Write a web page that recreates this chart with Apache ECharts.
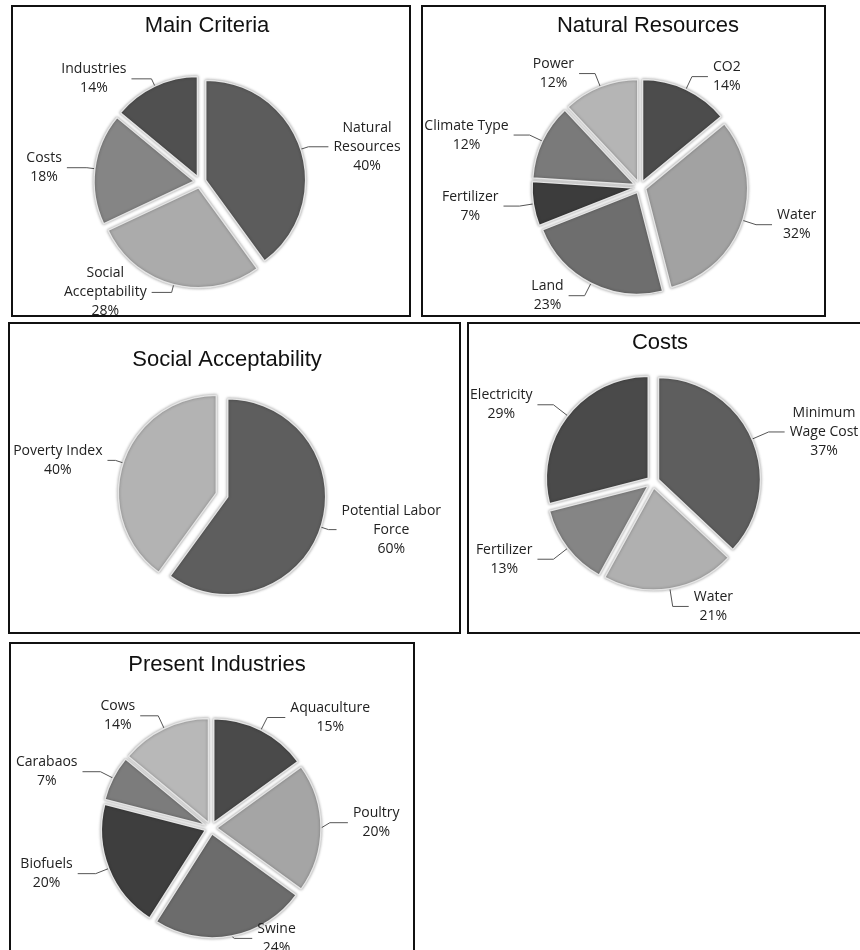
<!DOCTYPE html>
<html>
<head>
<meta charset="utf-8">
<script src="https://cdn.jsdelivr.net/npm/echarts@6/dist/echarts.min.js"></script>
<style>
  html, body { margin: 0; padding: 0; background: #fff; }
  #chart { width: 860px; height: 950px; }
</style>
</head>
<body>
<div id="chart"></div>
<script>
// chart data, one set per pie
const mainNames = ['Natural\nResources', 'Social\nAcceptability', 'Costs', 'Industries'];
const mainValues = [40, 28, 18, 14];

const naturalNames = ['CO2', 'Water', 'Land', 'Fertilizer', 'Climate Type', 'Power'];
const naturalValues = [14, 32, 23, 7, 12, 12];

const socialNames = ['Potential Labor\nForce', 'Poverty Index'];
const socialValues = [60, 40];

const costNames = ['Minimum\nWage Cost', 'Water', 'Fertilizer', 'Electricity'];
const costValues = [37, 21, 13, 29];

const industryNames = ['Aquaculture', 'Poultry', 'Swine', 'Biofuels', 'Carabaos', 'Cows'];
const industryValues = [15, 20, 24, 20, 7, 14];

// grey shades per slice
const mainColors = ['#5c5c5c', '#ababab', '#858585', '#505050'];
const naturalColors = ['#4c4c4c', '#a2a2a2', '#6e6e6e', '#3c3c3c', '#7a7a7a', '#b5b5b5'];
const socialColors = ['#5e5e5e', '#b3b3b3'];
const costColors = ['#5e5e5e', '#b0b0b0', '#858585', '#4a4a4a'];
const industryColors = ['#4a4a4a', '#a5a5a5', '#6c6c6c', '#3e3e3e', '#7c7c7c', '#b8b8b8'];

const chart = echarts.init(document.getElementById('chart'));

// every line of the label centred, like Excel does
const labelText = (p) => {
  const lines = p.name.split('\n').concat([p.value + '%']);
  return lines.map(l => '{t|' + l + '}').join('\n');
};

const makePie = (names, values, colors, center, radius, len, len2) => ({
  type: 'pie',
  center: center,
  radius: radius,
  startAngle: 90,
  clockwise: true,
  selectedMode: 'multiple',
  selectedOffset: 6,
  avoidLabelOverlap: true,
  emphasis: { disabled: true },
  itemStyle: {
    borderColor: '#e4e4e4',
    borderWidth: 1.5,
    shadowBlur: 3,
    shadowColor: 'rgba(0,0,0,0.35)'
  },
  label: {
    show: true,
    position: 'outside',
    bleedMargin: 0,
    formatter: labelText,
    rich: {
      t: {
        fontFamily: 'Open Sans',
        fontSize: 14,
        lineHeight: 19,
        color: '#222',
        align: 'center'
      }
    }
  },
  labelLine: {
    show: true,
    length: len,
    length2: len2,
    lineStyle: { color: '#555', width: 1 }
  },
  data: names.map((n, i) => ({
    name: n,
    value: values[i],
    selected: true,
    itemStyle: { color: colors[i] }
  }))
});

const titleStyle = {
  fontFamily: 'Liberation Sans',
  fontSize: 22,
  fontWeight: 'normal',
  color: '#111'
};

const box = (x, y, w, h) => ({
  type: 'rect',
  shape: { x: x, y: y, width: w, height: h },
  style: { fill: 'none', stroke: '#111', lineWidth: 2 },
  silent: true
});

const option = {
  backgroundColor: '#fff',
  animation: false,
  title: [
    { text: 'Main Criteria', left: 202, top: 10, textAlign: 'center', textStyle: titleStyle },
    { text: 'Natural Resources', left: 643, top: 10, textAlign: 'center', textStyle: titleStyle },
    { text: 'Social Acceptability', left: 222, top: 344, textAlign: 'center', textStyle: titleStyle },
    { text: 'Costs', left: 655, top: 327, textAlign: 'center', textStyle: titleStyle },
    { text: 'Present Industries', left: 212, top: 649, textAlign: 'center', textStyle: titleStyle }
  ],
  graphic: [
    box(12, 6, 398, 310),
    box(422, 6, 403, 310),
    box(9, 323, 451, 310),
    box(468, 323, 400, 310),
    box(10, 643, 404, 320)
  ],
  series: [
    makePie(mainNames, mainValues, mainColors, [200, 182], 100, 8, 20),
    makePie(naturalNames, naturalValues, naturalColors, [640, 187], 102, 14, 16),
    makePie(socialNames, socialValues, socialColors, [222, 495], 98, 8, 8),
    makePie(costNames, costValues, costColors, [653, 482], 102, 18, 16),
    makePie(industryNames, industryValues, industryColors, [211, 828], 104, 14, 18)
  ]
};

chart.setOption(option);
</script>
</body>
</html>
